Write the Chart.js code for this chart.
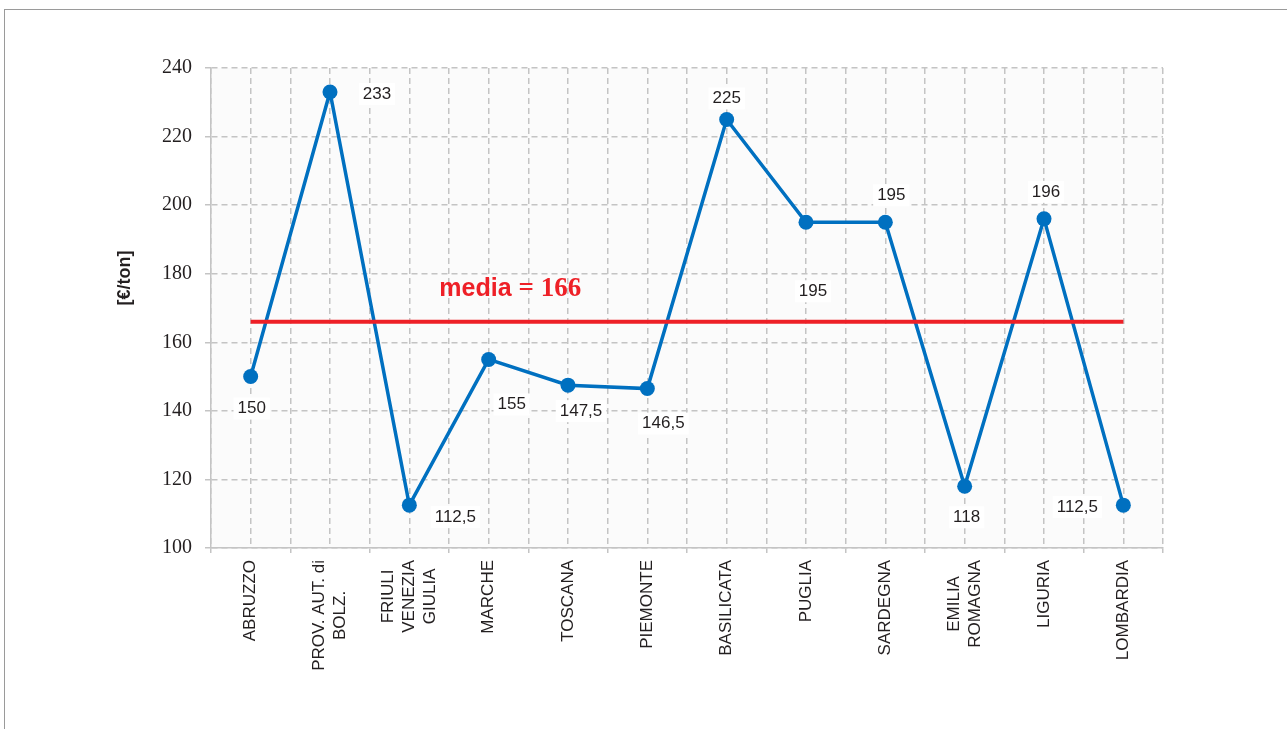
<!DOCTYPE html>
<html>
<head>
<meta charset="utf-8">
<script src="https://cdn.jsdelivr.net/npm/chart.js@4/dist/chart.umd.min.js"></script>
<style>
  html, body { margin: 0; padding: 0; background: #ffffff; }
  #wrap { position: relative; width: 1287px; height: 729px; overflow: hidden; }
  #frame { position: absolute; left: 4px; top: 9px; width: 1300px; height: 740px;
           border-left: 1.5px solid #9a9a9a; border-top: 1.5px solid #9a9a9a; }
  canvas { position: absolute; left: 0; top: 0; }
</style>
</head>
<body>
<div id="wrap">
  <div id="frame"></div>
  <canvas id="chart" width="1287" height="729"></canvas>
</div>
<script>
// Regions (multi-line names are stacked lines)
const regions = [
  'ABRUZZO',
  ['PROV. AUT. di', 'BOLZ.'],
  ['FRIULI', 'VENEZIA', 'GIULIA'],
  'MARCHE',
  'TOSCANA',
  'PIEMONTE',
  'BASILICATA',
  'PUGLIA',
  'SARDEGNA',
  ['EMILIA', 'ROMAGNA'],
  'LIGURIA',
  'LOMBARDIA'
];

// Cost per region [€/ton]
const costs = [150, 233, 112.5, 155, 147.5, 146.5, 225, 195, 195, 118, 196, 112.5];

// Mean value
const media = 166;
const mediaLine = [media, media, media, media, media, media, media, media, media, media, media, media];

// Y axis range and step
const yMin = 100;
const yMax = 240;
const yStep = 20;

// Where each value label sits relative to its point (dx, dy in px)
const labelOffsets = [
  [1, 32], [47, 2], [46, 12], [23, 45], [13, 26], [16, 35],
  [0, -21], [7, 69], [6, -27], [2, 31], [2, -27], [-46, 2]
];

const BLUE = '#0070c0';
const RED = '#ee2027';
const GRID = '#c4c4c4';
const SANS = "'Liberation Sans', Arial, sans-serif";
const SERIF = "'Liberation Serif', 'Times New Roman', serif";

function fmt(v) {
  return String(v).replace('.', ',');
}

const decor = {
  id: 'decor',
  beforeDraw(chart) {
    const { ctx, chartArea: a } = chart;
    ctx.save();
    ctx.fillStyle = '#fbfbfb';
    ctx.fillRect(a.left, a.top, a.right - a.left, a.bottom - a.top);
    ctx.restore();
  },
  beforeDatasetsDraw(chart) {
    // white boxes behind the value labels
    const { ctx } = chart;
    const meta = chart.getDatasetMeta(1);
    ctx.save();
    ctx.font = '17px ' + SANS;
    ctx.fillStyle = '#ffffff';
    meta.data.forEach((pt, i) => {
      const t = fmt(costs[i]);
      const w = ctx.measureText(t).width;
      const cx = pt.x + labelOffsets[i][0];
      const cy = pt.y + labelOffsets[i][1];
      ctx.fillRect(cx - w / 2 - 4, cy - 11, w + 8, 22);
    });
    ctx.restore();
  },
  afterDatasetsDraw(chart) {
    const { ctx, scales } = chart;
    const meta = chart.getDatasetMeta(1);
    ctx.save();

    // value labels
    ctx.font = '17px ' + SANS;
    ctx.fillStyle = '#231f20';
    ctx.textAlign = 'center';
    ctx.textBaseline = 'middle';
    meta.data.forEach((pt, i) => {
      ctx.fillText(fmt(costs[i]), pt.x + labelOffsets[i][0], pt.y + labelOffsets[i][1]);
    });

    // mean annotation
    const ym = scales.y.getPixelForValue(media) - 26;
    const xm = scales.x.getPixelForValue(2) + 30;
    ctx.textAlign = 'left';
    ctx.textBaseline = 'alphabetic';
    ctx.fillStyle = RED;
    ctx.font = 'bold 25px ' + SANS;
    ctx.fillText('media', xm, ym);
    const wm = ctx.measureText('media ').width;
    ctx.font = 'bold 27px ' + SERIF;
    ctx.fillText('= ' + media, xm + wm, ym);

    // category labels, rotated, lines centred on each other
    ctx.fillStyle = '#231f20';
    ctx.font = '17px ' + SANS;
    ctx.textAlign = 'center';
    ctx.textBaseline = 'middle';
    const top = scales.y.bottom + 12;
    const lh = 21;
    regions.forEach((r, i) => {
      const lines = Array.isArray(r) ? r : [r];
      const maxW = Math.max(...lines.map(l => ctx.measureText(l).width));
      const x = scales.x.getPixelForValue(i);
      ctx.save();
      ctx.translate(x, top);
      ctx.rotate(-Math.PI / 2);
      lines.forEach((l, j) => {
        ctx.fillText(l, -maxW / 2, (j - (lines.length - 1) / 2) * lh);
      });
      ctx.restore();
    });

    // y axis title
    ctx.save();
    ctx.translate(125, 278);
    ctx.rotate(-Math.PI / 2);
    ctx.font = 'bold 18px ' + SANS;
    ctx.fillStyle = '#231f20';
    ctx.fillText('[€/ton]', 0, 0);
    ctx.restore();

    ctx.restore();
  }
};

new Chart(document.getElementById('chart'), {
  type: 'line',
  data: {
    labels: regions,
    datasets: [
      {
        label: 'media',
        data: mediaLine,
        borderColor: RED,
        borderWidth: 4,
        pointRadius: 0,
        order: 0,
        xAxisID: 'x',
        yAxisID: 'y'
      },
      {
        label: '€/ton',
        data: costs,
        borderColor: BLUE,
        backgroundColor: BLUE,
        borderWidth: 3.5,
        pointRadius: 7.5,
        pointBorderWidth: 0,
        pointBackgroundColor: BLUE,
        tension: 0,
        order: 1,
        xAxisID: 'x',
        yAxisID: 'y'
      }
    ]
  },
  options: {
    responsive: false,
    animation: false,
    layout: { padding: { left: 0, top: 68, right: 124, bottom: 0 } },
    plugins: {
      legend: { display: false },
      tooltip: { enabled: false },
      title: { display: false }
    },
    scales: {
      xb: {
        type: 'category',
        position: 'bottom',
        weight: 0,
        offset: true,
        ticks: { display: false },
        grid: { offset: true, color: GRID, lineWidth: 1.5, tickLength: 5, drawTicks: true },
        border: { display: true, color: '#c4c4c4', width: 1.5, dash: [6, 4] },
        afterFit(s) { s.height = 181; }
      },
      x: {
        type: 'category',
        position: 'bottom',
        weight: 1,
        offset: true,
        ticks: { display: false },
        grid: { offset: false, color: GRID, lineWidth: 1.5, drawTicks: false },
        border: { display: false, dash: [6, 4] },
        afterFit(s) { s.height = 0; }
      },
      y: {
        min: yMin,
        max: yMax,
        ticks: {
          stepSize: yStep,
          padding: 13,
          color: '#231f20',
          font: { family: SERIF, size: 20 }
        },
        grid: { color: GRID, lineWidth: 1.5, tickLength: 6 },
        border: { display: true, color: '#c4c4c4', width: 1.5, dash: [6, 4] },
        afterFit(s) { s.width = 211; }
      }
    }
  },
  plugins: [decor]
});
</script>
</body>
</html>
